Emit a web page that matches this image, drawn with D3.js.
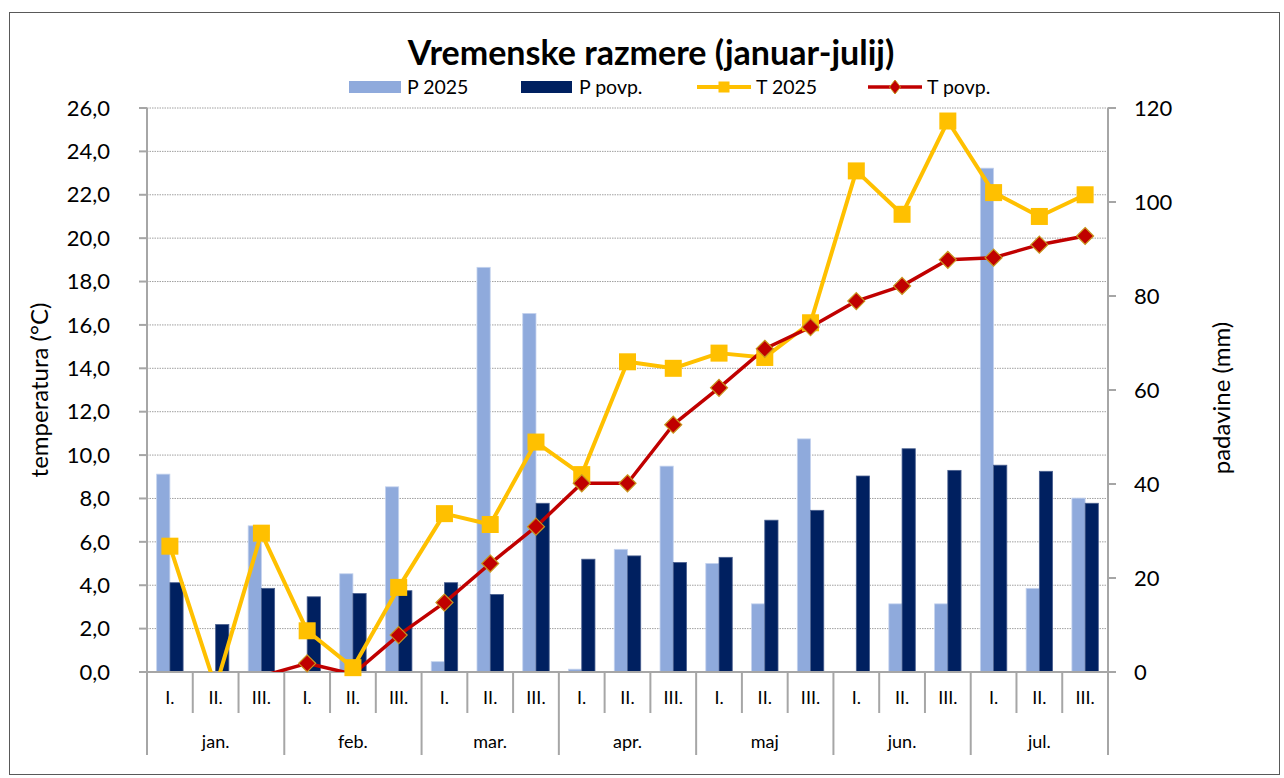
<!DOCTYPE html>
<html>
<head>
<meta charset="utf-8">
<script src="https://cdn.jsdelivr.net/npm/d3@7"></script>
<style>
	body { margin: 0; background: #fff; }
	text { font-family: Lato, 'Open Sans', sans-serif; fill: #000; }
</style>
</head>
<body>
<div id="chart"></div>
<script>
var months = ['jan.', 'feb.', 'mar.', 'apr.', 'maj', 'jun.', 'jul.'];
var decades = ['I.', 'II.', 'III.'];

// padavine (mm)
var p2025 = [42.1, 0, 31.1, 0, 20.9, 39.4, 2.2, 86.1, 76.3, 0.6, 26.1, 43.8, 23.1, 14.5, 49.6, 0, 14.5, 14.5, 107.2, 17.8, 37.0];
var pPovp = [19.0, 10.1, 17.8, 16.0, 16.7, 17.3, 19.0, 16.5, 35.9, 24.0, 24.7, 23.3, 24.4, 32.3, 34.4, 41.7, 47.5, 42.9, 44.0, 42.7, 35.9];
// temperatura (°C)
var t2025 = [5.8, -0.7, 6.4, 1.9, 0.2, 3.9, 7.3, 6.8, 10.6, 9.1, 14.3, 14.0, 14.7, 14.5, 16.1, 23.1, 21.1, 25.4, 22.1, 21.0, 22.0];
var tPovp = [-1.0, -0.6, -0.2, 0.4, -0.1, 1.7, 3.2, 5.0, 6.7, 8.7, 8.7, 11.4, 13.1, 14.9, 15.9, 17.1, 17.8, 19.0, 19.1, 19.7, 20.1];

var tempTicks = d3.range(0, 26.1, 2);
var rainTicks = d3.range(0, 121, 20);

var width = 1284;
var height = 778;
var pLeft = 147, pRight = 1108, pTop = 108, pBottom = 672;

var cLight = '#8faadc';
var cDark = '#002060';
var cYellow = '#ffc000';
var cRed = '#c00000';
var cAxis = '#a6a6a6';

/* Categories */
var cats = [];
months.forEach(function(m, mi) {
	decades.forEach(function(d, di) {
		cats.push({ id: mi * 3 + di, month: m, dec: d });
	});
});

/* Scales */
var x = d3.scaleBand().domain(cats.map(d => d.id)).range([pLeft, pRight]);
var xs = d3.scaleBand().domain(['p2025', 'povp']).range([0, x.bandwidth()]).paddingOuter(0.73);
var yT = d3.scaleLinear().domain([0, 26]).range([pBottom, pTop]);
var yP = d3.scaleLinear().domain([0, 120]).range([pBottom, pTop]);

var svg = d3
	.select('#chart')
	.append('svg')
	.attr('width', width)
	.attr('height', height);

svg.append('rect')
	.attr('x', 9.5).attr('y', 12.5)
	.attr('width', 1270).attr('height', 762)
	.attr('fill', '#fff')
	.attr('stroke', '#595959')
	.attr('stroke-width', 1);

svg.append('clipPath').attr('id', 'plot')
	.append('rect')
	.attr('x', pLeft).attr('y', pTop - 20)
	.attr('width', pRight - pLeft).attr('height', pBottom - pTop + 20);

/* Gridlines */
svg.append('g')
	.selectAll('line')
	.data(tempTicks.slice(1))
	.enter()
	.append('line')
	.attr('x1', pLeft).attr('x2', pRight)
	.attr('y1', d => yT(d)).attr('y2', d => yT(d))
	.attr('stroke', '#a0a0a0')
	.attr('stroke-width', 1)
	.attr('stroke-dasharray', '1.5,1');

/* Bars */
var bars = svg.append('g');
bars.selectAll('.b1')
	.data(p2025)
	.enter()
	.append('rect')
	.attr('x', (d, i) => x(i) + xs('p2025'))
	.attr('y', d => yP(d))
	.attr('width', xs.bandwidth())
	.attr('height', d => pBottom - yP(d))
	.attr('fill', cLight)
	.attr('stroke', d => d > 0 ? '#c5d3ee' : 'none')
	.attr('stroke-width', 0.8);

bars.selectAll('.b2')
	.data(pPovp)
	.enter()
	.append('rect')
	.attr('x', (d, i) => x(i) + xs('povp'))
	.attr('y', d => yP(d))
	.attr('width', xs.bandwidth())
	.attr('height', d => pBottom - yP(d))
	.attr('fill', cDark)
	.attr('stroke', '#4a6090')
	.attr('stroke-width', 0.8);

/* Axes */
var axes = svg.append('g')
	.attr('stroke', cAxis)
	.attr('stroke-width', 2);

axes.append('line').attr('x1', pLeft).attr('x2', pLeft).attr('y1', pTop).attr('y2', 755);
axes.append('line').attr('x1', pRight).attr('x2', pRight).attr('y1', pTop).attr('y2', 755);
axes.append('line').attr('x1', pLeft).attr('x2', pRight).attr('y1', pBottom).attr('y2', pBottom);

axes.selectAll('.tl')
	.data(tempTicks)
	.enter()
	.append('line')
	.attr('x1', pLeft - 8).attr('x2', pLeft)
	.attr('y1', d => yT(d)).attr('y2', d => yT(d));

axes.selectAll('.tr')
	.data(rainTicks)
	.enter()
	.append('line')
	.attr('x1', pRight).attr('x2', pRight + 8)
	.attr('y1', d => yP(d)).attr('y2', d => yP(d));

axes.selectAll('.tc')
	.data(cats.slice(1))
	.enter()
	.append('line')
	.attr('x1', d => x(d.id)).attr('x2', d => x(d.id))
	.attr('y1', pBottom)
	.attr('y2', d => d.id % 3 === 0 ? 755 : 713);

svg.append('g')
	.selectAll('text')
	.data(tempTicks)
	.enter()
	.append('text')
	.attr('x', 110)
	.attr('y', d => yT(d))
	.attr('dy', '0.35em')
	.attr('text-anchor', 'end')
	.style('font-size', '22px')
	.text(d => d3.format('.1f')(d).replace('.', ','));

svg.append('g')
	.selectAll('text')
	.data(rainTicks)
	.enter()
	.append('text')
	.attr('x', 1134)
	.attr('y', d => yP(d))
	.attr('dy', '0.35em')
	.style('font-size', '22px')
	.text(d => d);

svg.append('g')
	.selectAll('text')
	.data(cats)
	.enter()
	.append('text')
	.attr('x', d => x(d.id) + x.bandwidth() / 2)
	.attr('y', 698)
	.attr('dy', '0.35em')
	.attr('text-anchor', 'middle')
	.style('font-size', '18px')
	.text(d => d.dec);

svg.append('g')
	.selectAll('text')
	.data(months)
	.enter()
	.append('text')
	.attr('x', (d, i) => x(i * 3 + 1) + x.bandwidth() / 2)
	.attr('y', 742)
	.attr('dy', '0.35em')
	.attr('text-anchor', 'middle')
	.style('font-size', '18px')
	.text(d => d);

svg.append('text')
	.attr('transform', 'translate(40,390) rotate(-90)')
	.attr('dy', '0.35em')
	.attr('text-anchor', 'middle')
	.style('font-size', '24px')
	.text('temperatura (°C)');

svg.append('text')
	.attr('transform', 'translate(1222,398) rotate(-90)')
	.attr('dy', '0.35em')
	.attr('text-anchor', 'middle')
	.style('font-size', '24px')
	.text('padavine (mm)');

/* Lines */
var line = d3.line()
	.x((d, i) => x(i) + x.bandwidth() / 2)
	.y(d => yT(d));

var lines = svg.append('g').attr('clip-path', 'url(#plot)');
lines.append('path')
	.attr('d', line(t2025))
	.attr('fill', 'none')
	.attr('stroke', cYellow)
	.attr('stroke-width', 4)
	.attr('stroke-linejoin', 'round');

svg.append('g')
	.selectAll('rect')
	.data(t2025.map((v, i) => ({ v: v, i: i })).filter(d => d.v >= 0))
	.enter()
	.append('rect')
	.attr('x', d => x(d.i) + x.bandwidth() / 2 - 8.5)
	.attr('y', d => yT(d.v) - 8.5)
	.attr('width', 17)
	.attr('height', 17)
	.attr('fill', cYellow);

lines.append('path')
	.attr('d', line(tPovp))
	.attr('fill', 'none')
	.attr('stroke', cRed)
	.attr('stroke-width', 3.5)
	.attr('stroke-linejoin', 'round');

svg.append('g')
	.selectAll('path')
	.data(tPovp.map((v, i) => ({ v: v, i: i })).filter(d => d.v >= 0))
	.enter()
	.append('path')
	.attr('transform', d => `translate(${x(d.i) + x.bandwidth() / 2},${yT(d.v)})`)
	.attr('d', 'M0,-8.5L8.5,0L0,8.5L-8.5,0Z')
	.attr('fill', cRed)
	.attr('stroke', '#c8961e')
	.attr('stroke-width', 1.2);

/* Title */
svg.append('text')
	.attr('x', 651)
	.attr('y', 65)
	.attr('text-anchor', 'middle')
	.style('font-size', '34px')
	.style('font-weight', 'bold')
	.text('Vremenske razmere (januar-julij)');

/* Legend */
var leg = svg.append('g').style('font-size', '19.5px');
leg.append('rect').attr('x', 349).attr('y', 81).attr('width', 52).attr('height', 12).attr('fill', cLight);
leg.append('text').attr('x', 407).attr('y', 87).attr('dy', '0.35em').text('P 2025');
leg.append('rect').attr('x', 521).attr('y', 81).attr('width', 51).attr('height', 12).attr('fill', cDark);
leg.append('text').attr('x', 579).attr('y', 87).attr('dy', '0.35em').text('P povp.');
leg.append('line').attr('x1', 697).attr('x2', 751).attr('y1', 87).attr('y2', 87).attr('stroke', cYellow).attr('stroke-width', 4);
leg.append('rect').attr('x', 718.5).attr('y', 81.5).attr('width', 11).attr('height', 11).attr('fill', cYellow);
leg.append('text').attr('x', 756).attr('y', 87).attr('dy', '0.35em').text('T 2025');
leg.append('line').attr('x1', 868).attr('x2', 922).attr('y1', 87).attr('y2', 87).attr('stroke', cRed).attr('stroke-width', 3.5);
leg.append('path').attr('transform', 'translate(895,87)').attr('d', 'M0,-7L5.5,0L0,7L-5.5,0Z').attr('fill', cRed).attr('stroke', '#c8961e').attr('stroke-width', 1);
leg.append('text').attr('x', 927).attr('y', 87).attr('dy', '0.35em').text('T povp.');
</script>
</body>
</html>
